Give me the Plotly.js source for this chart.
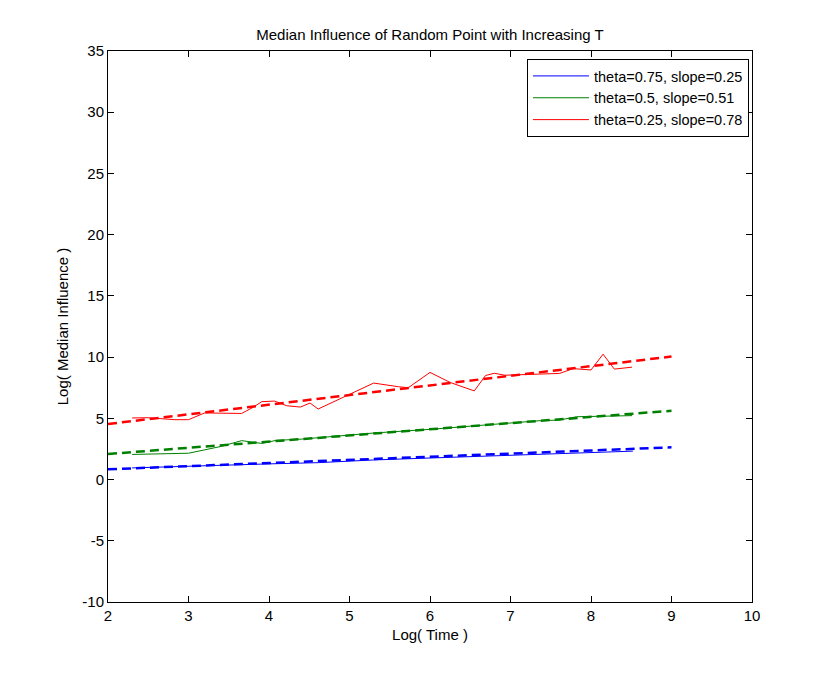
<!DOCTYPE html>
<html>
<head>
<meta charset="utf-8">
<script src="https://cdn.plot.ly/plotly-3.0.1.min.js"></script>
<style>html,body{margin:0;padding:0;background:#fff;}#chart{width:831px;height:676px;}</style>
</head>
<body>
<div id="chart"></div>
<script>
// Series names
const seriesNames = ["theta=0.75, slope=0.25", "theta=0.5, slope=0.51", "theta=0.25, slope=0.78"];

// Blue (theta=0.75) observed
const blueX = [2.30, 3.00, 3.40, 3.69, 4.00, 4.61, 5.30, 6.00, 6.91, 7.60, 8.01, 8.52];
const blueY = [0.95, 1.10, 1.20, 1.25, 1.28, 1.38, 1.60, 1.76, 1.95, 2.10, 2.22, 2.32];

// Green (theta=0.5) observed
const greenX = [2.30, 3.00, 3.40, 3.66, 3.91, 4.09, 4.40, 4.61, 5.30, 6.00, 6.91, 7.37, 7.61, 7.82, 8.51];
const greenY = [2.05, 2.15, 2.70, 3.18, 2.95, 3.20, 3.30, 3.42, 3.80, 4.10, 4.55, 4.81, 4.86, 5.13, 5.22];

// Red (theta=0.25) observed
const redX = [2.30, 2.50, 2.83, 3.00, 3.20, 3.66, 3.80, 3.91, 4.07, 4.22, 4.39, 4.51, 4.61, 5.30, 5.61, 5.73, 6.00, 6.25, 6.55, 6.69, 6.80, 6.93, 7.61, 7.78, 8.00, 8.15, 8.29, 8.51];
const redY = [5.03, 5.05, 4.89, 4.89, 5.44, 5.40, 5.89, 6.36, 6.41, 6.03, 5.92, 6.25, 5.76, 7.88, 7.58, 7.50, 8.75, 7.93, 7.24, 8.50, 8.68, 8.52, 8.67, 9.06, 8.95, 10.24, 9.02, 9.18];

// Fitted lines (endpoints)
const fitX = [2, 9];
const blueFitY = [0.84, 2.63];
const greenFitY = [2.09, 5.62];
const redFitY = [4.54, 10.05];

const xTicks = [2, 3, 4, 5, 6, 7, 8, 9, 10];
const yTicks = [-10, -5, 0, 5, 10, 15, 20, 25, 30, 35];

const colors = ["#0000ff", "#008000", "#ff0000"];
const font = "Liberation Sans, Arial, sans-serif";
const fs = 15;

const traces = [
  {x: fitX, y: blueFitY, mode: "lines", line: {color: colors[0], width: 2.5, dash: "9px,5px"}, showlegend: false, hoverinfo: "skip"},
  {x: fitX, y: greenFitY, mode: "lines", line: {color: colors[1], width: 2.5, dash: "9px,5px"}, showlegend: false, hoverinfo: "skip"},
  {x: fitX, y: redFitY, mode: "lines", line: {color: colors[2], width: 2.5, dash: "9px,5px"}, showlegend: false, hoverinfo: "skip"},
  {x: blueX, y: blueY, mode: "lines", name: seriesNames[0], line: {color: colors[0], width: 1}},
  {x: greenX, y: greenY, mode: "lines", name: seriesNames[1], line: {color: colors[1], width: 1}},
  {x: redX, y: redY, mode: "lines", name: seriesNames[2], line: {color: colors[2], width: 1}}
];

const axisCommon = {
  showgrid: false, zeroline: false, showline: true, linecolor: "#000", linewidth: 1,
  mirror: "ticks", ticks: "inside", ticklen: 6, tickcolor: "#000", tickwidth: 1,
  tickfont: {family: font, size: fs, color: "#000"}
};

const layout = {
  width: 831, height: 676,
  paper_bgcolor: "#fff", plot_bgcolor: "#fff",
  margin: {l: 108, r: 79, t: 51, b: 74},
  font: {family: font, size: fs, color: "#000"},
  title: {text: "Median Influence of Random Point with Increasing T", font: {family: font, size: fs, color: "#000"},
    xref: "paper", x: 0.5, xanchor: "center", y: 0.948, yanchor: "middle"},
  xaxis: Object.assign({}, axisCommon, {range: [2, 10], tickvals: xTicks, ticktext: xTicks.map(String),
    title: {text: "Log( Time )", font: {family: font, size: fs, color: "#000"}, standoff: 6}}),
  yaxis: Object.assign({}, axisCommon, {range: [-10, 35], tickvals: yTicks, ticktext: yTicks.map(String),
    title: {text: "Log( Median Influence )", font: {family: font, size: fs, color: "#000"}, standoff: 10}}),
  legend: {x: 0.9953, xanchor: "right", y: 0.9855, yanchor: "top", bgcolor: "#fff", bordercolor: "#000", borderwidth: 1,
    font: {family: font, size: 14.5, color: "#000"}, tracegroupgap: 0, itemwidth: 56},
  showlegend: true
};

Plotly.newPlot("chart", traces, layout, {displayModeBar: false, staticPlot: true});
</script>
</body>
</html>
